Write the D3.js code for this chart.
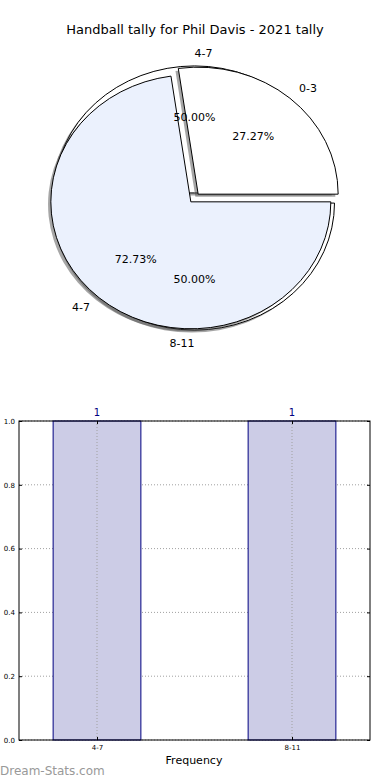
<!DOCTYPE html>
<html>
<head>
<meta charset="utf-8">
<script src="https://cdn.jsdelivr.net/npm/d3@7"></script>
<style>
body { margin: 0; background: #fff; }
text { font-family: "DejaVu Sans", sans-serif; }
</style>
</head>
<body>
<div id="chart"></div>
<script>
var W = 390, H = 780;

var title = "Handball tally for Phil Davis - 2021 tally";

// front pie (drawn on top)
var frontLabels = ["0-3", "4-7"];
var frontCounts = [3, 8];
var frontColors = ["#ffffff", "#ebf1fd"];

// back pie
var backLabels = ["4-7", "8-11"];
var backCounts = [1, 1];
var backColors = ["#ffffff", "#ffffff"];

// bar chart
var barCats = ["4-7", "8-11"];
var barFreq = [1, 1];
var yTicks = [0.0, 0.2, 0.4, 0.6, 0.8, 1.0];

var svg = d3.select("#chart").append("svg")
   .attr("width", W)
   .attr("height", H);

svg.append("text")
   .attr("x", 195).attr("y", 34)
   .attr("text-anchor", "middle")
   .attr("font-size", 13)
   .text(title);

// ---- pies ----
var cx = 194.5, cy = 198, rx = 140, ry = 127;
var explode = 0.04;

var pie = d3.pie().sort(null)
   .startAngle(Math.PI / 2)
   .endAngle(Math.PI / 2 - 2 * Math.PI);

var arc = d3.arc().innerRadius(0).outerRadius(1);

// matplotlib angle (ccw from east) of the slice middle
var midTheta = function(d) {
   return Math.PI / 2 - (d.startAngle + d.endAngle) / 2;
};

var layout = function(counts, labels) {
   return pie(counts).map(function(d, i) {
      var t = midTheta(d);
      d.label = labels[i];
      d.ax = cx + explode * rx * Math.cos(t);
      d.ay = cy - explode * ry * Math.sin(t);
      d.t = t;
      d.pct = (d.value / d3.sum(counts) * 100).toFixed(2) + "%";
      return d;
   });
};

var drawWedges = function(slices, colors) {
   var g = svg.append("g");
   // shadows
   g.selectAll("path.shadow").data(slices).enter().append("path")
      .attr("class", "shadow")
      .attr("d", arc)
      .attr("transform", function(d) {
         return "translate(" + (d.ax - 0.02 * rx) + "," + (d.ay + 0.02 * ry) + ") scale(" + rx + "," + ry + ")";
      })
      .attr("fill", "#4d4d4d")
      .attr("opacity", 0.5);
   g.selectAll("path.wedge").data(slices).enter().append("path")
      .attr("class", "wedge")
      .attr("d", arc)
      .attr("transform", function(d) {
         return "translate(" + d.ax + "," + d.ay + ") scale(" + rx + "," + ry + ")";
      })
      .attr("fill", function(d, i) { return colors[i]; })
      .attr("stroke", "#000")
      .attr("stroke-width", 1)
      .attr("vector-effect", "non-scaling-stroke");
};

var drawPieText = function(slices) {
   var g = svg.append("g").attr("font-size", 11);
   slices.forEach(function(d) {
      var lx = d.ax + 1.1 * rx * Math.cos(d.t);
      var ly = d.ay - 1.1 * ry * Math.sin(d.t);
      g.append("text")
         .attr("x", lx).attr("y", ly)
         .attr("dy", "0.35em")
         .attr("text-anchor", Math.cos(d.t) > 0 ? "start" : "end")
         .text(d.label);
      g.append("text")
         .attr("x", d.ax + 0.6 * rx * Math.cos(d.t))
         .attr("y", d.ay - 0.6 * ry * Math.sin(d.t))
         .attr("dy", "0.35em")
         .attr("text-anchor", "middle")
         .text(d.pct);
   });
};

var backSlices = layout(backCounts, backLabels);
var frontSlices = layout(frontCounts, frontLabels);
drawWedges(backSlices, backColors);
drawWedges(frontSlices, frontColors);
drawPieText(backSlices);
drawPieText(frontSlices);

// ---- bar chart ----
var plotL = 19, plotR = 370, plotT = 421, plotB = 740;
var x = d3.scaleLinear().domain([-0.4, 1.4]).range([plotL, plotR]);
var y = d3.scaleLinear().domain([0, 1]).range([plotB, plotT]);
var barW = 0.45;

var bars = svg.append("g");

// grid
bars.selectAll("line.hgrid").data(yTicks).enter().append("line")
   .attr("x1", plotL).attr("x2", plotR)
   .attr("y1", function(d) { return y(d); })
   .attr("y2", function(d) { return y(d); })
   .attr("stroke", "#a0a0a0")
   .attr("stroke-dasharray", "1,2");

bars.selectAll("rect.bar").data(barFreq).enter().append("rect")
   .attr("class", "bar")
   .attr("x", function(d, i) { return x(i - barW / 2); })
   .attr("width", function() { return x(barW) - x(0); })
   .attr("y", function(d) { return y(d); })
   .attr("height", function(d) { return y(0) - y(d); })
   .attr("fill", "#cccce6")
   .attr("stroke", "#000080")
   .attr("stroke-width", 1);

bars.selectAll("line.vgrid").data(barCats).enter().append("line")
   .attr("x1", function(d, i) { return x(i); })
   .attr("x2", function(d, i) { return x(i); })
   .attr("y1", plotT).attr("y2", plotB)
   .attr("stroke", "#a0a0a0")
   .attr("stroke-dasharray", "1,2");

// frame
bars.append("rect")
   .attr("x", plotL).attr("y", plotT)
   .attr("width", plotR - plotL).attr("height", plotB - plotT)
   .attr("fill", "none")
   .attr("stroke", "#000");

// ticks
var yAxisL = d3.axisLeft(y).tickValues(yTicks).tickFormat(d3.format(".1f")).tickSizeInner(-3).tickSizeOuter(0).tickPadding(4);
var gy = bars.append("g").attr("transform", "translate(" + plotL + ",0)").call(yAxisL);
gy.select(".domain").remove();
gy.selectAll("text").attr("font-size", 7).attr("font-family", "DejaVu Sans");

var yAxisR = d3.axisRight(y).tickValues(yTicks).tickFormat("").tickSizeInner(-3).tickSizeOuter(0);
var gy2 = bars.append("g").attr("transform", "translate(" + plotR + ",0)").call(yAxisR);
gy2.select(".domain").remove();

var xAxisB = d3.axisBottom(x).tickValues([0, 1])
   .tickFormat(function(d) { return barCats[d]; })
   .tickSizeInner(-3).tickSizeOuter(0).tickPadding(5);
var gx = bars.append("g").attr("transform", "translate(0," + plotB + ")").call(xAxisB);
gx.select(".domain").remove();
gx.selectAll("text").attr("font-size", 7).attr("font-family", "DejaVu Sans");

var xAxisT = d3.axisTop(x).tickValues([0, 1]).tickFormat("").tickSizeInner(-3).tickSizeOuter(0);
var gx2 = bars.append("g").attr("transform", "translate(0," + plotT + ")").call(xAxisT);
gx2.select(".domain").remove();

// value labels
bars.selectAll("text.val").data(barFreq).enter().append("text")
   .attr("class", "val")
   .attr("x", function(d, i) { return x(i); })
   .attr("y", function(d) { return y(d) - 5; })
   .attr("text-anchor", "middle")
   .attr("font-size", 10)
   .attr("fill", "#000080")
   .text(function(d) { return d; });

svg.append("text")
   .attr("x", 194).attr("y", 764)
   .attr("text-anchor", "middle")
   .attr("font-size", 11)
   .text("Frequency");

svg.append("text")
   .attr("x", 0).attr("y", 775)
   .attr("font-size", 12)
   .attr("fill", "#999")
   .text("Dream-Stats.com");
</script>
</body>
</html>
